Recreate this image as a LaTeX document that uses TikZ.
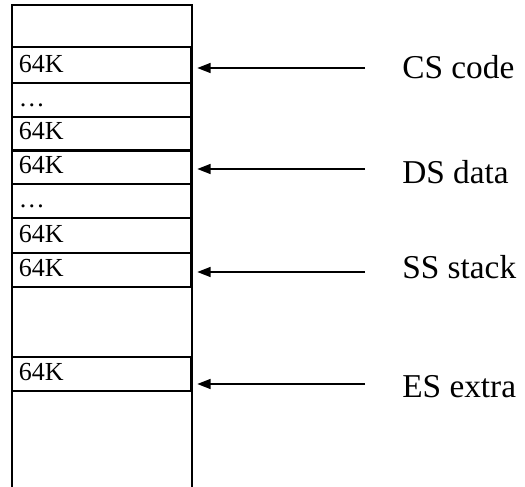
\documentclass[tikz,border=0pt]{standalone}
\usepackage{fontspec}
\setmainfont{Liberation Serif}
\usetikzlibrary{arrows.meta}
\begin{document}
\begin{tikzpicture}[x=0.75pt,y=-0.75pt,
  cellbox/.style={draw,line width=1.4pt,minimum width=134.25pt,inner sep=0pt,anchor=north west,outer sep=0pt},
  celltxt/.style={font=\fontsize{19.5pt}{21pt}\selectfont,anchor=base west,inner sep=0pt},
  labtxt/.style={font=\fontsize{25pt}{28pt}\selectfont,anchor=base west,inner sep=0pt},
  arr/.style={line width=1.1pt,-{Triangle[length=10pt,width=7.5pt]}}]
\useasboundingbox (0,0) rectangle (525,486);
% outer column
\draw[line width=1.5pt] (12.3,490) -- (12.3,5) -- (192.3,5) -- (192.3,490);
% cells
\node[cellbox,minimum height=27pt]    (c1) at (12.3,47) {};
\node[cellbox,minimum height=25.5pt]  (c2) at (12.3,83) {};
\node[cellbox,minimum height=24.75pt] (c3) at (12.3,117) {};
\node[cellbox,minimum height=24.4pt]  (c4) at (12.3,151.5) {};
\node[cellbox,minimum height=25.5pt]  (c5) at (12.3,184) {};
\node[cellbox,minimum height=26.25pt] (c6) at (12.3,218) {};
\node[cellbox,minimum height=25.5pt]  (c7) at (12.3,253) {};
\node[cellbox,minimum height=25.5pt]  (c8) at (12.3,357) {};
% cell texts
\node[celltxt] (t1) at (18.5,72.5) {64K};
\node[celltxt] (t2) at (18.5,106.5) {…};
\node[celltxt] (t3) at (18.5,139.5) {64K};
\node[celltxt] (t4) at (18.5,173.5) {64K};
\node[celltxt] (t5) at (18.5,207.5) {…};
\node[celltxt] (t6) at (18.5,242.5) {64K};
\node[celltxt] (t7) at (18.5,276.5) {64K};
\node[celltxt] (t8) at (18.5,380.5) {64K};
% labels
\node[labtxt] (lcs) at (402,78) {CS code};
\node[labtxt] (lds) at (402,183) {DS data};
\node[labtxt] (lss) at (402,278) {SS stack};
\node[labtxt] (les) at (402,397) {ES extra};
% arrow tails
\coordinate (acs) at (365,68);
\coordinate (ads) at (365,169);
\coordinate (ass) at (365,272);
\coordinate (aes) at (365,384);
\draw[arr,shorten >=4.5pt] (acs) -- (acs -| c1.east);
\draw[arr,shorten >=4.5pt] (ads) -- (ads -| c4.east);
\draw[arr,shorten >=4.5pt] (ass) -- (ass -| c7.east);
\draw[arr,shorten >=4.5pt] (aes) -- (aes -| c8.east);
\end{tikzpicture}
\end{document}
